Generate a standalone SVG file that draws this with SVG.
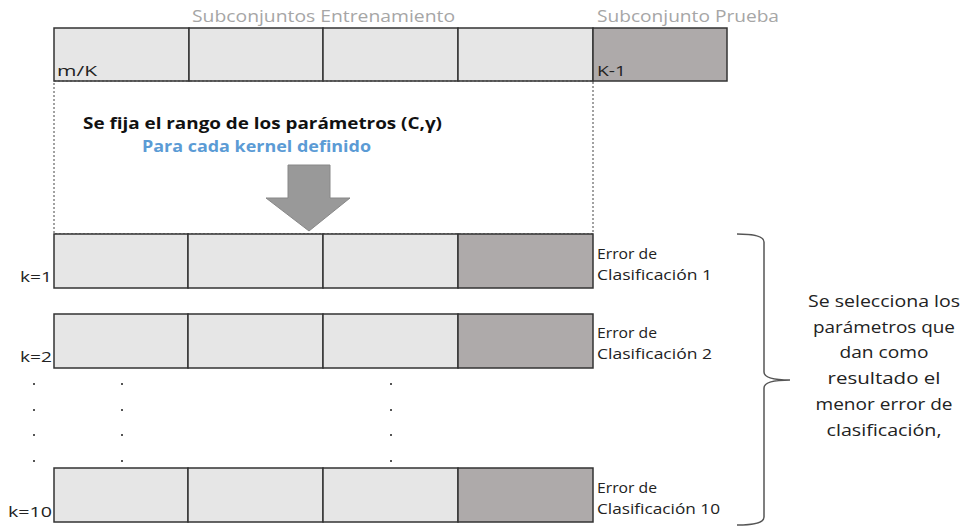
<svg xmlns="http://www.w3.org/2000/svg" width="963" height="527" viewBox="0 0 963 527">
<style>
text{font-family:"Open Sans","Liberation Sans",sans-serif}
.cl{fill:#e6e6e6;stroke:#333;stroke-width:1.5}
.cd{fill:#aeaaaa;stroke:#333;stroke-width:1.5}
.hdr{font-size:16px;fill:#a6a6a6}
.lb{font-size:15px;fill:#222}
.err{font-size:14px;fill:#222}
.dot{fill:#555}
.side{font-size:17px;fill:#222;text-anchor:middle}
</style>
<rect width="963" height="527" fill="#fff"/>
<g id="header-labels">
<text class="hdr" x="192" y="22" textLength="263" lengthAdjust="spacingAndGlyphs">Subconjuntos Entrenamiento</text>
<text class="hdr" x="597" y="22" textLength="182" lengthAdjust="spacingAndGlyphs">Subconjunto Prueba</text>
</g>
<g id="top-row">
<rect class="cl" x="54" y="28" width="135" height="53"/>
<rect class="cl" x="189" y="28" width="134" height="53"/>
<rect class="cl" x="323" y="28" width="135" height="53"/>
<rect class="cl" x="458" y="28" width="135" height="53"/>
<rect class="cd" x="593" y="28" width="134" height="53"/>
<text class="lb" x="57" y="76" textLength="40" lengthAdjust="spacingAndGlyphs">m/K</text>
<text class="lb" x="597" y="76" textLength="29" lengthAdjust="spacingAndGlyphs">K-1</text>
</g>
<g id="param-box">
<rect x="54" y="81" width="539" height="153" fill="none" stroke="#444" stroke-width="1" stroke-dasharray="2,2"/>
<text x="83" y="129" font-size="16" font-weight="bold" fill="#111" textLength="359" lengthAdjust="spacingAndGlyphs">Se fija el rango de los parámetros (C,γ)</text>
<text x="142" y="152" font-size="16" font-weight="bold" fill="#5b9bd5" textLength="229" lengthAdjust="spacingAndGlyphs">Para cada kernel definido</text>
<polygon points="288,165 330,165 330,198 350,198 309,231 266,198 288,198" fill="#999" stroke="#888" stroke-width="1"/>
</g>
<g id="row-k1">
<rect class="cl" x="54" y="234" width="134" height="54"/>
<rect class="cl" x="188" y="234" width="135" height="54"/>
<rect class="cl" x="323" y="234" width="135" height="54"/>
<rect class="cd" x="458" y="234" width="135" height="54"/>
<text class="lb" x="20" y="282" textLength="32" lengthAdjust="spacingAndGlyphs">k=1</text>
<text class="err" x="597" y="259" textLength="60" lengthAdjust="spacingAndGlyphs">Error de</text>
<text class="err" x="597" y="280" textLength="115" lengthAdjust="spacingAndGlyphs">Clasificación 1</text>
</g>
<g id="row-k2">
<rect class="cl" x="54" y="314" width="134" height="54"/>
<rect class="cl" x="188" y="314" width="135" height="54"/>
<rect class="cl" x="323" y="314" width="135" height="54"/>
<rect class="cd" x="458" y="314" width="135" height="54"/>
<text class="lb" x="20" y="362" textLength="32" lengthAdjust="spacingAndGlyphs">k=2</text>
<text class="err" x="597" y="338" textLength="60" lengthAdjust="spacingAndGlyphs">Error de</text>
<text class="err" x="597" y="359" textLength="115" lengthAdjust="spacingAndGlyphs">Clasificación 2</text>
</g>
<g id="dots">
<rect class="dot" x="33" y="383" width="2" height="2"/><rect class="dot" x="121" y="383" width="2" height="2"/><rect class="dot" x="390" y="383" width="2" height="2"/>
<rect class="dot" x="33" y="409" width="2" height="2"/><rect class="dot" x="121" y="409" width="2" height="2"/><rect class="dot" x="390" y="409" width="2" height="2"/>
<rect class="dot" x="33" y="434" width="2" height="2"/><rect class="dot" x="121" y="434" width="2" height="2"/><rect class="dot" x="390" y="434" width="2" height="2"/>
<rect class="dot" x="33" y="460" width="2" height="2"/><rect class="dot" x="121" y="460" width="2" height="2"/><rect class="dot" x="390" y="460" width="2" height="2"/>
</g>
<g id="row-k10">
<rect class="cl" x="54" y="468" width="134" height="54"/>
<rect class="cl" x="188" y="468" width="135" height="54"/>
<rect class="cl" x="323" y="468" width="135" height="54"/>
<rect class="cd" x="458" y="468" width="135" height="54"/>
<text class="lb" x="8" y="517" textLength="44" lengthAdjust="spacingAndGlyphs">k=10</text>
<text class="err" x="597" y="493" textLength="60" lengthAdjust="spacingAndGlyphs">Error de</text>
<text class="err" x="597" y="514" textLength="123" lengthAdjust="spacingAndGlyphs">Clasificación 10</text>
</g>
<g id="connectors">
<path d="M737,234 Q764,234 764,242 L764,372 Q764,380 790,380 Q764,380 764,388 L764,517 Q764,525 737,525" fill="none" stroke="#555" stroke-width="1.5"/>
</g>
<g id="result">
<text class="side" x="884" y="307" textLength="152" lengthAdjust="spacingAndGlyphs">Se selecciona los</text>
<text class="side" x="884" y="333" textLength="142" lengthAdjust="spacingAndGlyphs">parámetros que</text>
<text class="side" x="884" y="358" textLength="89" lengthAdjust="spacingAndGlyphs">dan como</text>
<text class="side" x="884" y="384" textLength="113" lengthAdjust="spacingAndGlyphs">resultado el</text>
<text class="side" x="884" y="410" textLength="137" lengthAdjust="spacingAndGlyphs">menor error de</text>
<text class="side" x="884" y="436" textLength="115" lengthAdjust="spacingAndGlyphs">clasificación,</text>
</g>
</svg>
